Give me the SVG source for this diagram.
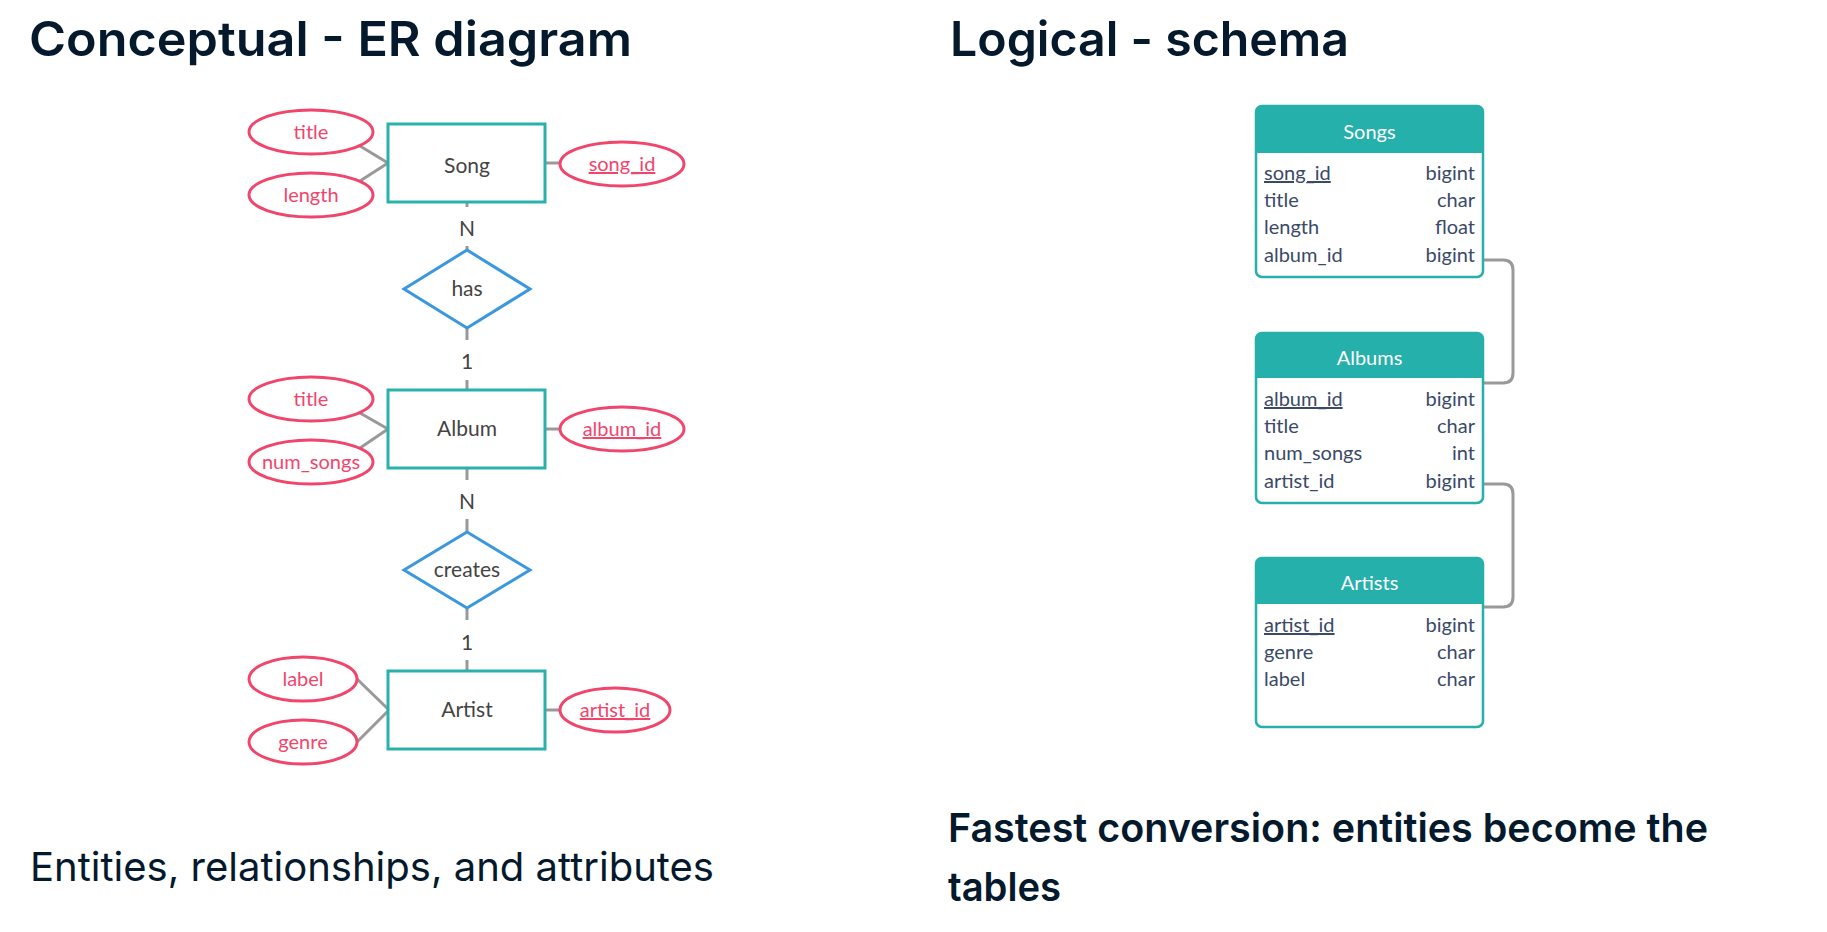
<svg xmlns="http://www.w3.org/2000/svg" width="1827" height="932" viewBox="0 0 1827 932">
<style>
.h{font-family:Inter,"Noto Sans","Liberation Sans",sans-serif;fill:#05192D}
.ent rect{fill:#fff;stroke:#2AB1AC;stroke-width:3}
.rel polygon{fill:#fff;stroke:#3B98DE;stroke-width:3}
.att ellipse{fill:#fff;stroke:#F2456C;stroke-width:3}
.lb{font-family:Lato,"Open Sans","Liberation Sans",sans-serif;font-size:20px;text-anchor:middle}
.et{fill:#444;font-size:21px}
.at{fill:#F2456C}
.u{text-decoration:underline}
.con line,.con path{stroke:#999;stroke-width:3;fill:none}
.tb .box{fill:#fff;stroke:#25B0AC;stroke-width:2.5}
.tb .hd{fill:#25B0AC}
.ht{font-family:Lato,"Open Sans","Liberation Sans",sans-serif;font-size:20px;fill:#fff;text-anchor:middle}
.rt{font-family:Lato,"Open Sans","Liberation Sans",sans-serif;font-size:20px;fill:#3A4A68}
.r{text-anchor:end}
</style>
<rect width="1827" height="932" fill="#fff"/>
<text class="h" x="29" y="56" font-size="48" font-weight="600" textLength="603" lengthAdjust="spacingAndGlyphs">Conceptual - ER diagram</text>
<text class="h" x="950" y="56" font-size="48" font-weight="600" textLength="399" lengthAdjust="spacingAndGlyphs">Logical - schema</text>
<text class="h" x="30" y="881" font-size="40" font-weight="400" textLength="684" lengthAdjust="spacingAndGlyphs">Entities, relationships, and attributes</text>
<text class="h" x="948" y="842" font-size="40" font-weight="600" textLength="760" lengthAdjust="spacingAndGlyphs">Fastest conversion: entities become the</text>
<text class="h" x="948" y="901" font-size="40" font-weight="600" textLength="113" lengthAdjust="spacingAndGlyphs">tables</text>

<g class="con" id="connectors">
  <line x1="360" y1="146" x2="388" y2="163"/>
  <line x1="360" y1="181" x2="388" y2="163"/>
  <line x1="545" y1="163" x2="560" y2="163"/>
  <line x1="360" y1="413" x2="388" y2="429"/>
  <line x1="360" y1="448" x2="388" y2="429"/>
  <line x1="545" y1="429" x2="560" y2="429"/>
  <line x1="357" y1="679" x2="389" y2="710"/>
  <line x1="357" y1="742" x2="389" y2="710"/>
  <line x1="545" y1="710" x2="560" y2="710"/>
  <line x1="467" y1="202" x2="467" y2="207"/>
  <line x1="467" y1="246" x2="467" y2="250"/>
  <line x1="467" y1="328" x2="467" y2="340"/>
  <line x1="467" y1="380" x2="467" y2="390"/>
  <line x1="467" y1="468" x2="467" y2="480"/>
  <line x1="467" y1="519" x2="467" y2="532"/>
  <line x1="467" y1="608" x2="467" y2="620"/>
  <line x1="467" y1="660" x2="467" y2="671"/>
  <text class="lb et" x="467" y="236">N</text>
  <text class="lb et" x="467" y="369">1</text>
  <text class="lb et" x="467" y="509">N</text>
  <text class="lb et" x="467" y="650">1</text>
  <path d="M1483,260 H1503 Q1513,260 1513,270 V373 Q1513,383 1503,383 H1483"/>
  <path d="M1483,484 H1503 Q1513,484 1513,494 V597 Q1513,607 1503,607 H1483"/>
</g>

<g class="ent" id="song"><rect x="388" y="124" width="157" height="78"/><text class="lb et" x="467" y="173">Song</text></g>
<g class="ent" id="album"><rect x="388" y="390" width="157" height="78"/><text class="lb et" x="467" y="436">Album</text></g>
<g class="ent" id="artist"><rect x="388" y="671" width="157" height="78"/><text class="lb et" x="467" y="717">Artist</text></g>

<g class="rel" id="has"><polygon points="467,250 530,289 467,328 404,289"/><text class="lb et" x="467" y="296">has</text></g>
<g class="rel" id="creates"><polygon points="467,532 530,570 467,608 404,570"/><text class="lb et" x="467" y="577">creates</text></g>

<g class="att" id="song-title"><ellipse cx="311" cy="132" rx="62" ry="22"/><text class="lb at" x="311" y="139">title</text></g>
<g class="att" id="song-length"><ellipse cx="311" cy="195" rx="62" ry="22"/><text class="lb at" x="311" y="202">length</text></g>
<g class="att" id="song-id"><ellipse cx="622" cy="164" rx="62" ry="22"/><text class="lb at u" x="622" y="171">song_id</text></g>
<g class="att" id="album-title"><ellipse cx="311" cy="399" rx="62" ry="22"/><text class="lb at" x="311" y="406">title</text></g>
<g class="att" id="album-num-songs"><ellipse cx="311" cy="462" rx="62" ry="22"/><text class="lb at" x="311" y="469">num_songs</text></g>
<g class="att" id="album-id"><ellipse cx="622" cy="429" rx="62" ry="22"/><text class="lb at u" x="622" y="436">album_id</text></g>
<g class="att" id="artist-label"><ellipse cx="303" cy="679" rx="54" ry="22"/><text class="lb at" x="303" y="686">label</text></g>
<g class="att" id="artist-genre"><ellipse cx="303" cy="742" rx="54" ry="22"/><text class="lb at" x="303" y="749">genre</text></g>
<g class="att" id="artist-id"><ellipse cx="615" cy="710" rx="55" ry="22"/><text class="lb at u" x="615" y="717">artist_id</text></g>

<g class="tb" id="songs">
  <rect class="box" x="1256" y="106" width="227" height="171" rx="6"/>
  <path class="hd" d="M1256,153 V112 Q1256,106 1262,106 H1477 Q1483,106 1483,112 V153 Z"/>
  <text class="ht" x="1369.5" y="139">Songs</text>
  <text class="rt u" x="1264" y="180">song_id</text><text class="rt r" x="1475" y="180">bigint</text>
  <text class="rt" x="1264" y="207">title</text><text class="rt r" x="1475" y="207">char</text>
  <text class="rt" x="1264" y="234">length</text><text class="rt r" x="1475" y="234">float</text>
  <text class="rt" x="1264" y="262">album_id</text><text class="rt r" x="1475" y="262">bigint</text>
</g>
<g class="tb" id="albums">
  <rect class="box" x="1256" y="333" width="227" height="170" rx="6"/>
  <path class="hd" d="M1256,378 V339 Q1256,333 1262,333 H1477 Q1483,333 1483,339 V378 Z"/>
  <text class="ht" x="1369.5" y="365">Albums</text>
  <text class="rt u" x="1264" y="406">album_id</text><text class="rt r" x="1475" y="406">bigint</text>
  <text class="rt" x="1264" y="433">title</text><text class="rt r" x="1475" y="433">char</text>
  <text class="rt" x="1264" y="460">num_songs</text><text class="rt r" x="1475" y="460">int</text>
  <text class="rt" x="1264" y="488">artist_id</text><text class="rt r" x="1475" y="488">bigint</text>
</g>
<g class="tb" id="artists">
  <rect class="box" x="1256" y="558" width="227" height="169" rx="6"/>
  <path class="hd" d="M1256,604 V564 Q1256,558 1262,558 H1477 Q1483,558 1483,564 V604 Z"/>
  <text class="ht" x="1369.5" y="590">Artists</text>
  <text class="rt u" x="1264" y="632">artist_id</text><text class="rt r" x="1475" y="632">bigint</text>
  <text class="rt" x="1264" y="659">genre</text><text class="rt r" x="1475" y="659">char</text>
  <text class="rt" x="1264" y="686">label</text><text class="rt r" x="1475" y="686">char</text>
</g>
</svg>
